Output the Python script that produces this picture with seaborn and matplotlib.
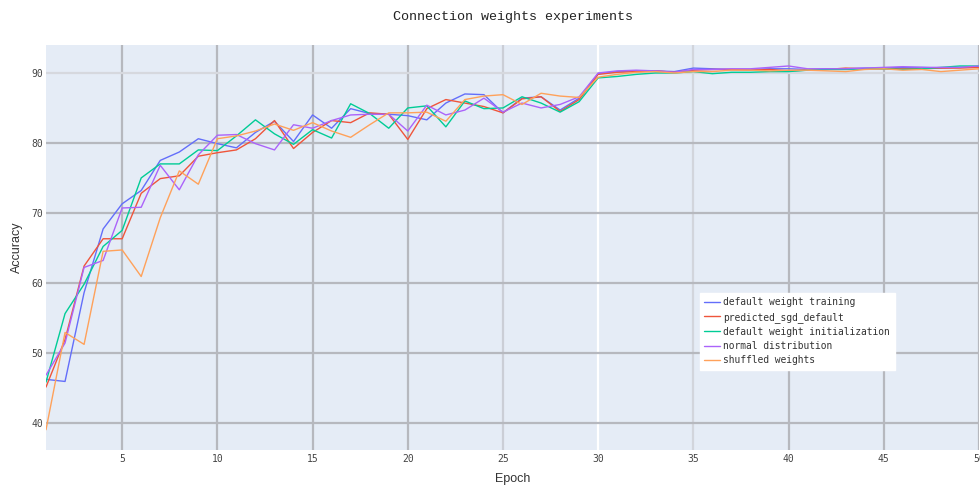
import numpy as np
import pandas as pd
import matplotlib
matplotlib.use("Agg")
import matplotlib.pyplot as plt
import seaborn as sns

epochs = list(range(1, 51))

default_weight_training = [
    46.2, 45.9, 58.6, 67.7, 71.3, 73.2, 77.5, 78.7, 80.6, 79.9,
    79.3, 81.5, 83.1, 80.2, 84.0, 82.1, 84.9, 84.2, 84.1, 83.9,
    83.3, 85.7, 87.0, 86.9, 84.3, 86.4, 86.6, 84.7, 86.4, 89.9,
    90.2, 90.3, 90.3, 90.2, 90.7, 90.6, 90.5, 90.5, 90.6, 90.6,
    90.5, 90.6, 90.6, 90.7, 90.7, 90.8, 90.8, 90.7, 90.8, 90.9,
]
predicted_sgd_default = [
    45.1, 51.9, 62.4, 66.3, 66.3, 72.8, 74.9, 75.3, 78.1, 78.6,
    79.0, 80.6, 83.2, 79.2, 81.5, 83.2, 82.9, 84.3, 84.1, 80.5,
    84.9, 86.2, 85.7, 85.2, 84.3, 86.3, 86.6, 84.5, 86.2, 89.8,
    90.1, 90.2, 90.3, 90.1, 90.4, 90.5, 90.5, 90.4, 90.5, 90.3,
    90.4, 90.5, 90.7, 90.6, 90.6, 90.6, 90.6, 90.7, 90.7, 90.8,
]
default_weight_initialization = [
    45.8, 55.6, 59.8, 65.2, 67.5, 75.0, 77.0, 77.0, 79.0, 78.9,
    81.0, 83.3, 81.3, 79.8, 81.9, 80.7, 85.6, 84.2, 82.1, 85.0,
    85.3, 82.3, 86.0, 84.9, 85.0, 86.6, 85.7, 84.4, 85.9, 89.3,
    89.5, 89.8, 90.0, 90.0, 90.2, 89.9, 90.1, 90.1, 90.2, 90.2,
    90.4, 90.5, 90.5, 90.6, 90.6, 90.5, 90.6, 90.8, 91.0, 91.0,
]
normal_distribution = [
    46.8, 51.4, 62.2, 63.2, 70.7, 70.8, 76.8, 73.3, 78.3, 81.1,
    81.2, 79.9, 79.0, 82.6, 82.1, 83.2, 84.0, 84.1, 84.1, 81.7,
    85.4, 84.0, 84.7, 86.4, 84.4, 85.7, 85.0, 85.5, 86.6, 90.0,
    90.3, 90.4, 90.3, 90.1, 90.5, 90.5, 90.6, 90.6, 90.8, 91.0,
    90.6, 90.6, 90.6, 90.7, 90.8, 90.9, 90.8, 90.8, 90.8, 91.0,
]
shuffled_weights = [
    39.0, 52.9, 51.2, 64.5, 64.7, 60.9, 69.3, 76.0, 74.1, 80.6,
    81.0, 81.7, 82.7, 81.8, 82.9, 81.7, 80.8, 82.6, 84.3, 84.3,
    84.4, 83.1, 86.2, 86.7, 86.9, 85.5, 87.1, 86.7, 86.5, 89.4,
    89.8, 90.1, 90.2, 90.0, 90.2, 90.2, 90.4, 90.4, 90.3, 90.4,
    90.4, 90.3, 90.2, 90.5, 90.6, 90.4, 90.5, 90.2, 90.4, 90.6,
]

series_names = [
    "default weight training",
    "predicted_sgd_default",
    "default weight initialization",
    "normal distribution",
    "shuffled weights",
]
series_values = [
    default_weight_training,
    predicted_sgd_default,
    default_weight_initialization,
    normal_distribution,
    shuffled_weights,
]
colors = ["#636EFA", "#EF553B", "#00CC96", "#AB63FA", "#FFA15A"]

x_ticks = [5, 10, 15, 20, 25, 30, 35, 40, 45, 50]
y_ticks = [40, 50, 60, 70, 80, 90]

frames = [
    pd.DataFrame({"Epoch": epochs, "Accuracy": vals, "run": name})
    for name, vals in zip(series_names, series_values)
]
df = pd.concat(frames, ignore_index=True)

sns.set_theme(style="white")
plt.rcParams["font.family"] = ["DejaVu Sans Mono", "DejaVu Sans"]

fig = plt.figure(figsize=(9.8, 4.86), dpi=100)
W, H = 980, 486
left, right, top, bottom = 46, 979, 45, 450
ax = fig.add_axes([left / W, (H - bottom) / H, (right - left) / W, (bottom - top) / H])
ax.set_facecolor("#E5ECF6")

sns.lineplot(
    data=df, x="Epoch", y="Accuracy", hue="run", hue_order=series_names,
    palette=colors, linewidth=1.0, ax=ax, legend=True,
)

ax.set_xlim(1, 50)
ax.set_ylim(36.1, 94.0)
ax.set_xticks(x_ticks)
ax.set_yticks(y_ticks)
for s in ax.spines.values():
    s.set_visible(False)

ax.grid(True, linewidth=1.6, color="#B6B8BE")
ax.set_axisbelow(True)
xgrid_colors = {25: "#CBCED6", 30: "#FFFFFF", 35: "#D2D5DC"}
for tick, gl in zip(x_ticks, ax.xaxis.get_gridlines()):
    gl.set_color(xgrid_colors.get(tick, "#B6B8BE"))
for tick, gl in zip(y_ticks, ax.yaxis.get_gridlines()):
    if tick == 90:
        gl.set_color("#D6D8DE")

ax.tick_params(axis="x", length=0, labelsize=7, colors="#444444", pad=3)
ax.tick_params(axis="y", length=0, labelsize=7, colors="#444444", pad=2)
ax.set_xlabel("Epoch", fontsize=9, family=["Liberation Sans", "DejaVu Sans"],
              color="#333333", labelpad=6)
ax.set_ylabel("Accuracy", fontsize=9, family=["Liberation Sans", "DejaVu Sans"],
              color="#333333", labelpad=6)

fig.suptitle("Connection weights experiments", x=0.523, y=0.978,
             fontsize=9.6, family=["Liberation Mono", "DejaVu Sans Mono"],
             color="#222222")

handles, labels = ax.get_legend_handles_labels()
leg = ax.legend(
    handles, labels, loc="upper left",
    bbox_to_anchor=((700 - left) / (right - left), (bottom - 293) / (bottom - top)),
    borderaxespad=0, frameon=True, fancybox=False, fontsize=6.9,
    handlelength=1.6, handletextpad=0.4, borderpad=0.45, labelspacing=0.45,
)
leg.get_frame().set_facecolor("white")
leg.get_frame().set_edgecolor("white")
leg.get_frame().set_alpha(1.0)
for t in leg.get_texts():
    t.set_color("#333333")

fig.savefig("out.png", dpi=100, facecolor="white")
